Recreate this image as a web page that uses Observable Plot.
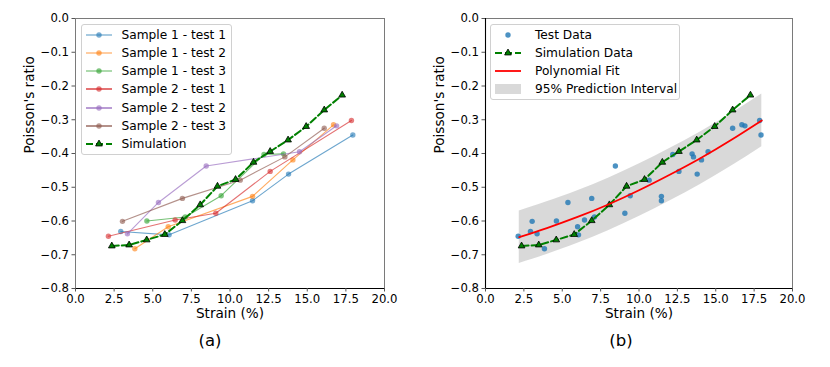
<!DOCTYPE html>
<html>
<head>
<meta charset="utf-8">
<script src="https://cdn.jsdelivr.net/npm/d3@7"></script>
<script src="https://cdn.jsdelivr.net/npm/@observablehq/plot@0.6"></script>
<style>
  body { margin: 0; background: white; font-family: "DejaVu Sans", sans-serif; }
  #wrap { position: relative; width: 830px; height: 367px; overflow: hidden; background: white; }
  .panel { position: absolute; top: 0; }
  .legend { position: absolute; box-sizing: border-box; border: 1px solid #d0d0d0; border-radius: 3px;
            background: rgba(255,255,255,0.85); font-size: 12.2px; color: #000; }
  .row { position: relative; white-space: nowrap; }
  .row svg { position: absolute; left: 0; top: 0; }
  .row span { position: absolute; }
</style>
</head>
<body>
<div id="wrap"></div>
<script>
// ---------- data ----------
const xTicks = [0, 2.5, 5, 7.5, 10, 12.5, 15, 17.5, 20];
const yTicks = [-0.8, -0.7, -0.6, -0.5, -0.4, -0.3, -0.2, -0.1, 0];

const seriesNames = ["Sample 1 - test 1", "Sample 1 - test 2", "Sample 1 - test 3",
                     "Sample 2 - test 1", "Sample 2 - test 2", "Sample 2 - test 3"];
const seriesColors = ["#1f77b4", "#ff7f0e", "#2ca02c", "#d62728", "#9467bd", "#8c564b"];

const s1t1X = [2.93, 6.06, 11.46, 13.79, 17.95];
const s1t1Y = [-0.631, -0.641, -0.540, -0.461, -0.345];
const s1t2X = [3.84, 6.00, 11.46, 14.07, 16.70];
const s1t2Y = [-0.682, -0.617, -0.527, -0.419, -0.315];
const s1t3X = [4.62, 7.10, 9.43, 12.20, 13.46];
const s1t3Y = [-0.600, -0.588, -0.525, -0.403, -0.401];
const s2t1X = [2.13, 6.45, 9.08, 12.60, 17.86];
const s2t1Y = [-0.645, -0.597, -0.577, -0.453, -0.302];
const s2t2X = [3.36, 5.37, 8.46, 14.50, 16.90];
const s2t2Y = [-0.638, -0.545, -0.437, -0.395, -0.318];
const s2t3X = [3.04, 6.92, 10.66, 13.55, 16.10];
const s2t3Y = [-0.601, -0.533, -0.479, -0.410, -0.325];

const simX = [2.35, 3.47, 4.61, 5.78, 6.92, 8.07, 9.19, 10.36, 11.52, 12.60, 13.76, 14.93, 16.10, 17.26];
const simY = [-0.674, -0.671, -0.656, -0.640, -0.599, -0.552, -0.497, -0.477, -0.426, -0.394, -0.360, -0.320, -0.271, -0.227];

const fitX = [2.2, 4, 6, 8, 10, 12, 14, 16, 18];
const fitY = [-0.648, -0.621, -0.588, -0.551, -0.509, -0.463, -0.414, -0.360, -0.302];
const bandHi = [-0.570, -0.543, -0.510, -0.473, -0.431, -0.385, -0.336, -0.282, -0.224];
const bandLo = [-0.726, -0.699, -0.666, -0.629, -0.587, -0.541, -0.492, -0.438, -0.380];

// ---------- tables ----------
const seriesX = [s1t1X, s1t2X, s1t3X, s2t1X, s2t2X, s2t3X];
const seriesY = [s1t1Y, s1t2Y, s1t3Y, s2t1Y, s2t2Y, s2t3Y];
const series = seriesNames.map((name, i) => seriesX[i].map((x, j) => ({name, x, y: seriesY[i][j]})));
const allTest = series.flat();
const sim = simX.map((x, i) => ({x, y: simY[i]}));
const fit = fitX.map((x, i) => ({x, y: fitY[i], lo: bandLo[i], hi: bandHi[i]}));

const fmt = d3.format(".1f");
const SIMG = "#008000";

function makePlot(marks, marginLeft, marginRight, letter, letterDx, blackLeft) {
  return Plot.plot({
    width: 415, height: 367,
    marginTop: 18, marginBottom: 79, marginLeft, marginRight,
    x: {domain: [0, 20]},
    y: {domain: [-0.8, 0]},
    style: {fontFamily: "DejaVu Sans", fontSize: "11.7px", color: "black", background: "white", overflow: "visible"},
    marks: [
      ...marks,
      Plot.frame({stroke: "#7a7a7a", strokeWidth: 1}),
      Plot.ruleY([-0.8], {stroke: "black", strokeWidth: 1.1}),
      ...(blackLeft ? [Plot.ruleX([0], {stroke: "black", strokeWidth: 1.1})] : []),
      Plot.axisX(xTicks, {tickFormat: fmt, tickSize: 3.5, tickPadding: 3, stroke: "#555", fill: "black", label: null}),
      Plot.axisY(yTicks, {tickFormat: fmt, tickSize: 3.5, tickPadding: 3, stroke: "#555", fill: "black", label: null}),
      Plot.text(["Strain (%)"], {frameAnchor: "bottom", dy: 29.5, fontSize: 13.6, fill: "black"}),
      Plot.text(["Poisson's ratio"], {frameAnchor: "left", rotate: -90, dx: -46, fontSize: 13.6, fill: "black"}),
      Plot.text([letter], {frameAnchor: "bottom", dy: 57, dx: letterDx, fontSize: 16.5, fill: "black"})
    ]
  });
}

// left panel
const leftMarks = [];
series.forEach((rows, i) => {
  leftMarks.push(Plot.line(rows, {x: "x", y: "y", stroke: seriesColors[i], strokeOpacity: 0.65, strokeWidth: 1.1}));
  leftMarks.push(Plot.dot(rows, {x: "x", y: "y", r: 2.7, fill: seriesColors[i], fillOpacity: 0.6, stroke: "none"}));
});
leftMarks.push(Plot.line(sim, {x: "x", y: "y", stroke: SIMG, strokeWidth: 2, strokeDasharray: "7,3"}));
leftMarks.push(Plot.dot(sim, {x: "x", y: "y", symbol: "triangle", r: 2.5, fill: SIMG, stroke: "black", strokeWidth: 0.8}));

const left = makePlot(leftMarks, 75, 31, "(a)", -20, false);

// right panel
const rightMarks = [
  Plot.areaY(fit, {x: "x", y1: "lo", y2: "hi", fill: "gray", fillOpacity: 0.3, curve: "natural"}),
  Plot.dot(allTest, {x: "x", y: "y", r: 2.7, fill: "#1f77b4", fillOpacity: 0.8, stroke: "none"}),
  Plot.line(sim, {x: "x", y: "y", stroke: SIMG, strokeWidth: 2, strokeDasharray: "7,3"}),
  Plot.dot(sim, {x: "x", y: "y", symbol: "triangle", r: 2.5, fill: SIMG, stroke: "black", strokeWidth: 0.8}),
  Plot.line(fit, {x: "x", y: "y", stroke: "red", strokeWidth: 1.8, curve: "natural"})
];
const right = makePlot(rightMarks, 70, 38, "(b)", -18, true);

const wrap = document.getElementById("wrap");
const p1 = document.createElement("div"); p1.className = "panel"; p1.style.left = "0px"; p1.appendChild(left);
const p2 = document.createElement("div"); p2.className = "panel"; p2.style.left = "415px"; p2.appendChild(right);
wrap.appendChild(p1); wrap.appendChild(p2);

// ---------- legends (HTML overlay) ----------
function swatch(kind, color, width) {
  const w = 26, h = 18, c = h / 2;
  if (kind === "line") {
    return `<svg width="${w}" height="${h}"><line x1="0" y1="${c}" x2="${w}" y2="${c}" stroke="${color}" stroke-opacity="0.65" stroke-width="${width}"/><circle cx="${w/2}" cy="${c}" r="2.7" fill="${color}" fill-opacity="0.6"/></svg>`;
  }
  if (kind === "sim") {
    return `<svg width="${w}" height="${h}"><line x1="0" y1="${c}" x2="${w}" y2="${c}" stroke="${SIMG}" stroke-width="2" stroke-dasharray="7,3"/><path transform="translate(${w/2},${c})" d="${d3.symbol(d3.symbolTriangle, 20)()}" fill="${SIMG}" stroke="black" stroke-width="0.8"/></svg>`;
  }
  if (kind === "dot") {
    return `<svg width="${w}" height="${h}"><circle cx="${w/2}" cy="${c}" r="2.7" fill="#1f77b4" fill-opacity="0.8"/></svg>`;
  }
  if (kind === "fit") {
    return `<svg width="${w}" height="${h}"><line x1="0" y1="${c}" x2="${w}" y2="${c}" stroke="red" stroke-width="1.8"/></svg>`;
  }
  if (kind === "band") {
    return `<svg width="${w}" height="${h}"><rect x="0" y="${c-5}" width="${w}" height="10" fill="gray" fill-opacity="0.3"/></svg>`;
  }
}

function legend(items, left, top, width, height, rowH, firstCenter, swLeft, textLeft) {
  const box = document.createElement("div");
  box.className = "legend";
  Object.assign(box.style, {left: left + "px", top: top + "px", width: width + "px", height: height + "px"});
  items.forEach((it, i) => {
    const row = document.createElement("div");
    row.className = "row";
    const cy = firstCenter + i * rowH;
    row.style.position = "absolute";
    row.style.left = swLeft + "px";
    row.style.top = (cy - 9) + "px";
    row.style.height = "18px";
    row.innerHTML = swatch(it.kind, it.color, it.width) +
      `<span style="left:${textLeft}px; top:0; line-height:18px;">${it.label}</span>`;
    box.appendChild(row);
  });
  wrap.appendChild(box);
}

const leftItems = seriesNames.map((label, i) => ({kind: "line", color: seriesColors[i], width: i < 3 ? 1.2 : 2, label}));
leftItems.push({kind: "sim", label: "Simulation"});
legend(leftItems, 80.5, 24, 151.5, 131, 18.27, 9.5, 4, 36);

legend([
  {kind: "dot", label: "Test Data"},
  {kind: "sim", label: "Simulation Data"},
  {kind: "fit", label: "Polynomial Fit"},
  {kind: "band", label: "95% Prediction Interval"}
], 489.5, 24, 190, 76, 18, 10, 4.5, 40);
</script>
</body>
</html>
